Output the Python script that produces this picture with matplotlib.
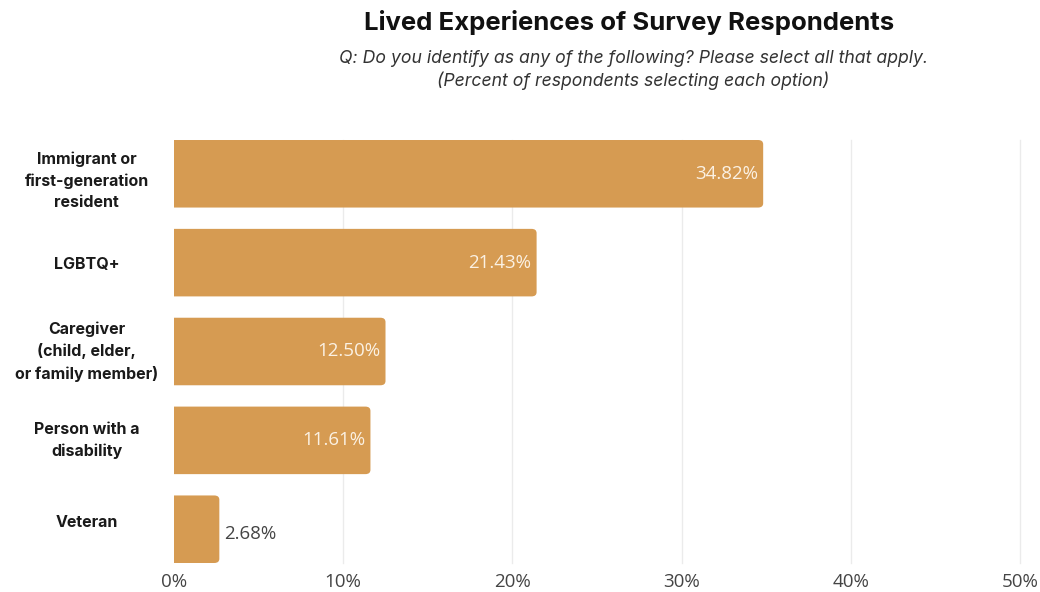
import matplotlib
matplotlib.use("Agg")
import matplotlib.pyplot as plt
from matplotlib.patches import FancyBboxPatch

# Survey data
categories = [
    "Immigrant or\nfirst-generation\nresident",
    "LGBTQ+",
    "Caregiver\n(child, elder,\nor family member)",
    "Person with a\ndisability",
    "Veteran",
]
percents = [34.82, 21.43, 12.50, 11.61, 2.68]
xticks = [0, 10, 20, 30, 40, 50]

bar_color = "#d69b52"
head_font = "Inter"
num_font = "Open Sans"

fig = plt.figure(figsize=(10.4, 5.92), dpi=100)
ax = fig.add_axes([0.1673, 0.049, 0.8135, 0.7145])

ypos = list(range(len(categories)))
bars = ax.barh(ypos, percents, height=0.76, color=bar_color)

# swap plain rectangles for ones with rounded right corners
for b in bars:
    x0, y0, w, h = b.get_x(), b.get_y(), b.get_width(), b.get_height()
    b.set_visible(False)
    box = FancyBboxPatch((x0 - 1, y0), w + 1, h,
                         boxstyle="round,pad=0,rounding_size=0.3",
                         mutation_aspect=0.16,
                         facecolor=bar_color, edgecolor="none", zorder=2)
    ax.add_patch(box)

for y, v in zip(ypos, percents):
    label = f"{v:.2f}%"
    if v > 8:
        ax.text(v - 0.3, y, label, ha="right", va="center", color="#fbf1e3",
                fontsize=13.5, family=num_font, zorder=3)
    else:
        ax.text(v + 0.3, y + 0.05, label, ha="left", va="center", color="#444444",
                fontsize=13.5, family=num_font, zorder=3)

ax.set_xlim(0, 50)
ax.set_ylim(len(categories) - 0.62, -0.38)
ax.set_xticks(xticks)
ax.set_xticklabels([f"{t}%" for t in xticks], family=num_font, fontsize=13.5, color="#444444")
ax.set_yticks(ypos)
ax.set_yticklabels([])
label_dy = [0.08, 0.02, 0.0, 0.0, -0.08]
for y, c, dy in zip(ypos, categories, label_dy):
    ax.text(-5.15, y + dy, c, ha="center", va="center", fontsize=11.5, fontweight="bold",
            family=head_font, color="#1a1a1a", linespacing=1.5)

ax.tick_params(axis="both", length=0)
ax.tick_params(axis="x", pad=7)
for t in xticks[1:]:
    ax.axvline(t, color="#ebebeb", linewidth=1.0, zorder=0, clip_on=False)
for s in ax.spines.values():
    s.set_visible(False)

fig.text(0.605, 0.962, "Lived Experiences of Survey Respondents", ha="center", va="center",
         fontsize=18.5, fontweight="bold", family=head_font, color="#111111")
fig.text(0.609, 0.902, "Q: Do you identify as any of the following? Please select all that apply.",
         ha="center", va="center", fontsize=12.7, style="italic", family=head_font, color="#333333")
fig.text(0.609, 0.863, "(Percent of respondents selecting each option)",
         ha="center", va="center", fontsize=12.7, style="italic", family=head_font, color="#333333")

fig.savefig("out.png", dpi=100, facecolor="white")
